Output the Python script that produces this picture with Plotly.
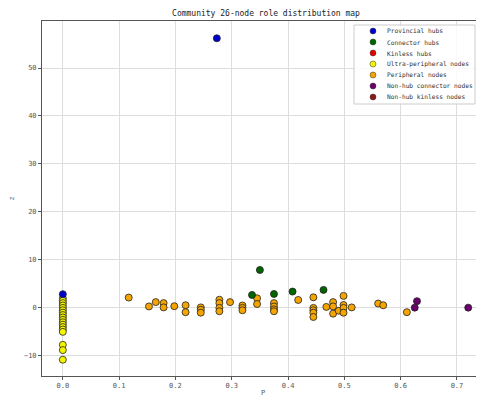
import plotly.graph_objects as go

# ---- data ----
roles = ["Provincial hubs", "Connector hubs", "Kinless hubs", "Ultra-peripheral nodes",
         "Peripheral nodes", "Non-hub connector nodes", "Non-hub kinless nodes"]
colors = ["#0000cc", "#006400", "#e00000", "#f5f500", "#f5a500", "#6a006a", "#8b1a1a"]

prov_p = [0.0, 0.2735]
prov_z = [2.85, 56.2]

conn_p = [0.336, 0.350, 0.375, 0.408, 0.463]
conn_z = [2.7, 7.9, 2.9, 3.4, 3.75]

kinless_p = []
kinless_z = []

ultra_p = [0.0] * 18
ultra_z = [2.0, 1.5, 1.0, 0.5, 0.0, -0.5, -1.0, -1.5, -2.0, -2.5, -3.0, -3.5,
           -4.0, -4.5, -5.0, -7.7, -8.8, -10.8]

peri_p = [0.117, 0.153, 0.165, 0.179, 0.179, 0.198, 0.218, 0.218,
          0.245, 0.245, 0.245, 0.278, 0.278, 0.278, 0.278, 0.297,
          0.319, 0.319, 0.319, 0.345, 0.345, 0.375, 0.375, 0.375, 0.375,
          0.418, 0.445, 0.445, 0.445, 0.445, 0.445, 0.468,
          0.480, 0.480, 0.480, 0.490, 0.4985, 0.4985, 0.4985, 0.4985,
          0.513, 0.560, 0.569, 0.611]
peri_z = [2.15, 0.3, 1.2, 1.0, 0.1, 0.35, 0.55, -0.9,
          0.1, -0.4, -1.0, 1.7, 1.0, 0.0, -0.7, 1.2,
          0.5, 0.0, -0.5, 2.0, 0.8, 1.0, 0.3, -0.3, -0.7,
          1.65, 2.2, 0.0, -0.5, -1.0, -1.9, 0.2,
          1.2, 0.3, -1.2, -0.6, 2.5, 0.6, 0.0, -1.0,
          0.1, 0.9, 0.55, -0.9]

nhconn_p = [0.625, 0.629, 0.720]
nhconn_z = [0.05, 1.4, 0.05]

nhkin_p = []
nhkin_z = []

series = [(prov_p, prov_z), (conn_p, conn_z), (kinless_p, kinless_z),
          (ultra_p, ultra_z), (peri_p, peri_z), (nhconn_p, nhconn_z), (nhkin_p, nhkin_z)]

x_ticks = [0.0, 0.1, 0.2, 0.3, 0.4, 0.5, 0.6, 0.7]
y_ticks = [-10, 0, 10, 20, 30, 40, 50]

# ---- figure ----
# the page body has an 8px default margin, so the figure is offset by 8px
OFF = 8
W, H = 484 - OFF, 397 - OFF
ML, MR, MT, MB = 42 - OFF, 0, 21 - OFF, 21
PW, PH = W - ML - MR, H - MT - MB

fig = go.Figure()
draw_order = [3, 4, 1, 0, 5, 2, 6]
for i in draw_order:
    xs, ys = series[i]
    fig.add_trace(go.Scatter(
        x=xs if xs else [None], y=ys if ys else [None], mode="markers", name=roles[i],
        marker=dict(size=7, color=colors[i], line=dict(color="#222222", width=0.8)),
        showlegend=False,
    ))

mono = "DejaVu Sans Mono"

# window pixel -> paper coordinate helpers (for the compact legend)
def px_x(px):
    return (px - OFF - ML) / PW

def px_y(py):
    return 1 - (py - OFF - MT) / PH

shapes = [dict(type="rect", xref="paper", yref="paper",
               x0=px_x(354), x1=px_x(475), y0=px_y(104), y1=px_y(25),
               line=dict(color="#cccccc", width=1), fillcolor="rgba(255,255,255,0.85)",
               layer="above")]
annotations = []
for k, (name, col) in enumerate(zip(roles, colors)):
    cy = 31 + k * 11
    shapes.append(dict(type="circle", xref="paper", yref="paper",
                       xsizemode="pixel", ysizemode="pixel",
                       xanchor=px_x(373), yanchor=px_y(cy),
                       x0=-3, x1=3, y0=-3, y1=3,
                       fillcolor=col, line=dict(color="#333", width=0.5), layer="above"))
    annotations.append(dict(xref="paper", yref="paper", x=px_x(385), y=px_y(cy),
                            xanchor="left", yanchor="middle", showarrow=False,
                            text=name, font=dict(family=mono, size=6.2, color="#333")))

fig.update_layout(
    width=W, height=H,
    paper_bgcolor="white", plot_bgcolor="white",
    margin=dict(l=ML, r=MR, t=MT, b=MB, autoexpand=False),
    showlegend=False,
    title=dict(text="Community 26-node role distribution map", x=(266 - OFF) / W, xanchor="center",
               y=1 - 2 / H, yanchor="top", font=dict(family=mono, size=8, color="#222")),
    font=dict(family=mono, size=7, color="#555"),
    shapes=shapes, annotations=annotations,
)
fig.update_xaxes(range=[-0.037, 0.748], tickvals=x_ticks, ticktext=[f"{v:.1f}" for v in x_ticks],
                 showgrid=True, gridcolor="#dddddd", gridwidth=1, zeroline=False,
                 showline=True, linecolor="#555", linewidth=1, mirror=True,
                 ticks="outside", ticklen=3, tickcolor="#555", automargin=False,
                 title=dict(text="P", font=dict(family=mono, size=7), standoff=1))
fig.update_yaxes(range=[-14.2, 59.8], tickvals=y_ticks,
                 showgrid=True, gridcolor="#dddddd", gridwidth=1, zeroline=False,
                 showline=True, linecolor="#555", linewidth=1, mirror=True,
                 ticks="outside", ticklen=3, tickcolor="#555", automargin=False,
                 title=dict(text="z", font=dict(family=mono, size=7), standoff=12))

fig.write_html("out.html")
